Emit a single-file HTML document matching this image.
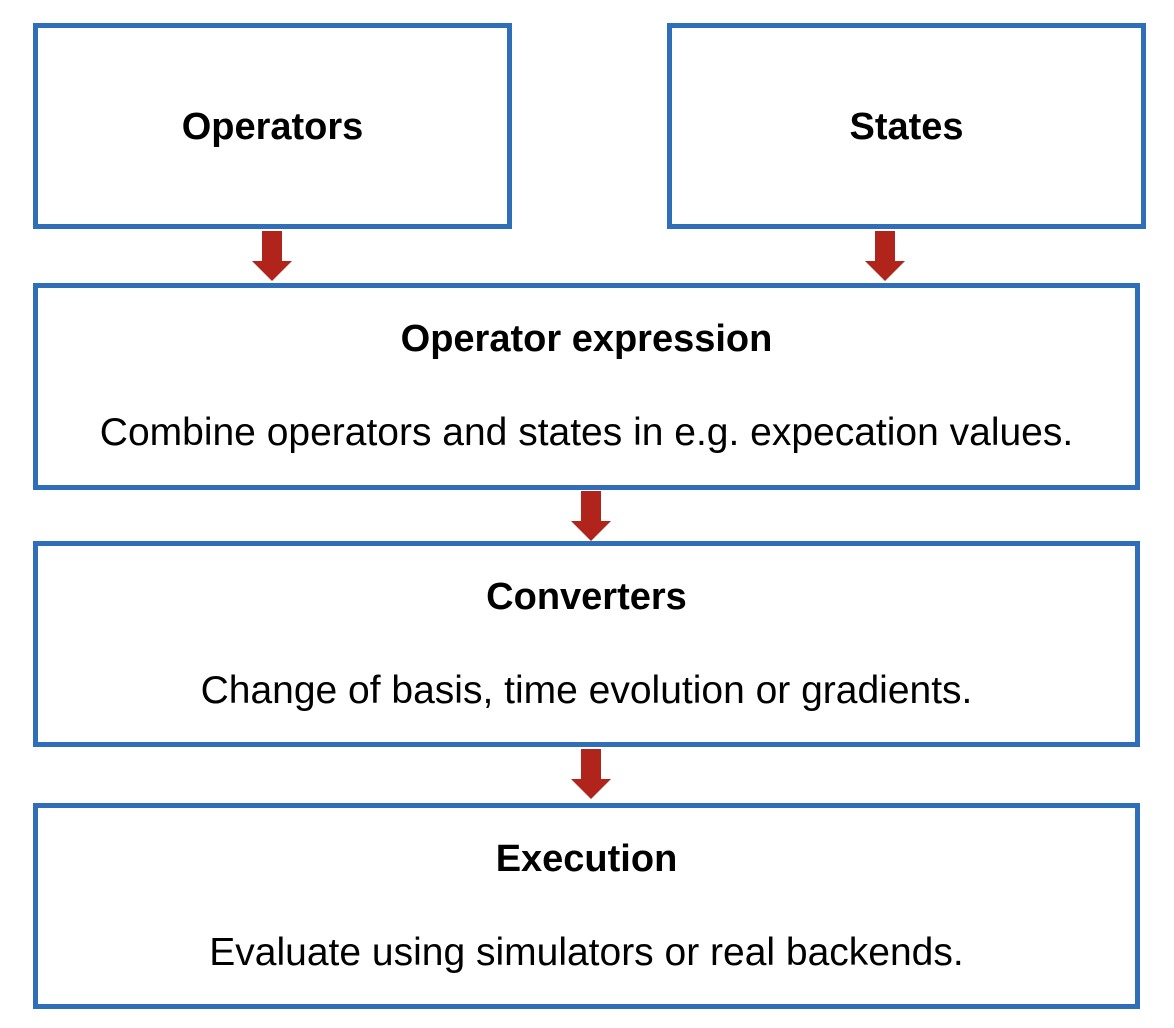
<!DOCTYPE html>
<html><head><meta charset="utf-8"><style>
body{margin:0;width:1174px;height:1028px;background:#fff;position:relative;font-family:"Liberation Sans",sans-serif;overflow:hidden}
.b{position:absolute;border:5px solid #2f6fba;box-sizing:border-box;text-align:center;color:#000}
.t{position:absolute;left:0;right:0;font-weight:bold;font-size:38px;white-space:nowrap}
.s{position:absolute;left:0;right:0;font-size:39px;white-space:nowrap}
</style></head><body>
<div class="b" style="left:33px;top:23px;width:479px;height:206px"><div class="t" style="top:78px">Operators</div></div>
<div class="b" style="left:667px;top:23px;width:479px;height:206px"><div class="t" style="top:78px">States</div></div>
<div class="b" style="left:33px;top:283px;width:1107px;height:207px"><div class="t" style="top:30px">Operator expression</div><div class="s" style="top:123px">Combine operators and states in e.g. expecation values.</div></div>
<div class="b" style="left:33px;top:541px;width:1107px;height:206px"><div class="t" style="top:30px">Converters</div><div class="s" style="top:123px">Change of basis, time evolution or gradients.</div></div>
<div class="b" style="left:33px;top:803px;width:1107px;height:206px"><div class="t" style="top:30px">Execution</div><div class="s" style="top:123px">Evaluate using simulators or real backends.</div></div>
<svg width="1174" height="1028" style="position:absolute;left:0;top:0">
<g fill="#b0241c">
<polygon points="262,231 282,231 282,261 292,261 272,281 252,261 262,261"/>
<polygon points="875,231 895,231 895,261 905,261 885,281 865,261 875,261"/>
<polygon points="581,491 601,491 601,521 611,521 591,541 571,521 581,521"/>
<polygon points="581,749 601,749 601,779 611,779 591,799 571,779 581,779"/>
</g></svg>
</body></html>
